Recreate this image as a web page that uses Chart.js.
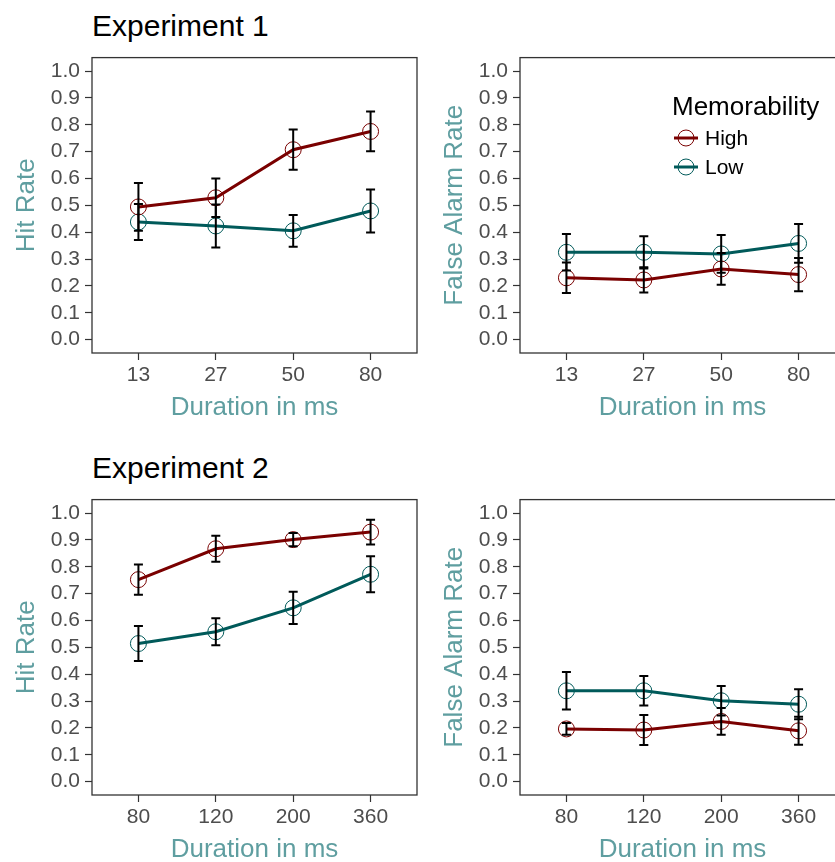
<!DOCTYPE html>
<html>
<head>
<meta charset="utf-8">
<script src="https://cdn.jsdelivr.net/npm/chart.js@4/dist/chart.umd.min.js"></script>
<style>
  html, body { margin:0; padding:0; background:#fff; overflow:hidden; width:835px; height:862px; }
  .wrap { position:relative; width:835px; height:862px; overflow:hidden; }
  canvas { position:absolute; }
  .ptitle { position:absolute; font-family:"Liberation Sans", Arial, sans-serif; font-size:30px; line-height:30px; color:#000; white-space:nowrap; }
</style>
</head>
<body>
<div class="wrap">
  <div class="ptitle" style="left:92px; top:11px;">Experiment 1</div>
  <div class="ptitle" style="left:92px; top:453px;">Experiment 2</div>
  <canvas id="c1" width="426" height="390" style="left:0px; top:40px;"></canvas>
  <canvas id="c2" width="434" height="390" style="left:420px; top:40px;"></canvas>
  <canvas id="c3" width="426" height="390" style="left:0px; top:482px;"></canvas>
  <canvas id="c4" width="434" height="390" style="left:420px; top:482px;"></canvas>
</div>
<script>
// ---- data ----
const exp1Durations = ['13', '27', '50', '80'];
const exp2Durations = ['80', '120', '200', '360'];
const yTickValues = [0, 0.1, 0.2, 0.3, 0.4, 0.5, 0.6, 0.7, 0.8, 0.9, 1.0];
const seriesNames = ['High', 'Low'];

const exp1HitHigh    = [0.494, 0.528, 0.707, 0.775];
const exp1HitHighErr = [0.089, 0.072, 0.075, 0.074];
const exp1HitLow     = [0.438, 0.423, 0.405, 0.479];
const exp1HitLowErr  = [0.067, 0.080, 0.059, 0.080];

const exp1FaHigh     = [0.230, 0.222, 0.263, 0.242];
const exp1FaHighErr  = [0.057, 0.047, 0.059, 0.062];
const exp1FaLow      = [0.325, 0.325, 0.319, 0.358];
const exp1FaLowErr   = [0.068, 0.060, 0.070, 0.072];

const exp2HitHigh    = [0.752, 0.867, 0.901, 0.929];
const exp2HitHighErr = [0.056, 0.048, 0.025, 0.046];
const exp2HitLow     = [0.514, 0.558, 0.647, 0.772];
const exp2HitLowErr  = [0.065, 0.050, 0.060, 0.067];

const exp2FaHigh     = [0.196, 0.192, 0.224, 0.189];
const exp2FaHighErr  = [0.022, 0.056, 0.050, 0.052];
const exp2FaLow      = [0.338, 0.338, 0.301, 0.288];
const exp2FaLowErr   = [0.070, 0.055, 0.055, 0.056];

// ---- style ----
const HIGH_COLOR = '#7a0000';
const LOW_COLOR = '#005a5a';
const AXIS_TITLE_COLOR = '#5f9ea0';
const TICK_COLOR = '#4d4d4d';
const FONT = '"Liberation Sans", Arial, sans-serif';

const errorBarPlugin = {
  id: 'errorBars',
  afterDatasetsDraw(chart) {
    const ctx = chart.ctx;
    const ys = chart.scales.y;
    ctx.save();
    ctx.strokeStyle = '#000';
    ctx.lineWidth = 2;
    chart.data.datasets.forEach((ds, di) => {
      const meta = chart.getDatasetMeta(di);
      ds.data.forEach((pt, i) => {
        const e = ds.errors[i];
        const x = meta.data[i].x;
        const yt = ys.getPixelForValue(pt.y + e);
        const yb = ys.getPixelForValue(pt.y - e);
        ctx.beginPath();
        ctx.moveTo(x, yt); ctx.lineTo(x, yb);
        ctx.moveTo(x - 4.5, yt); ctx.lineTo(x + 4.5, yt);
        ctx.moveTo(x - 4.5, yb); ctx.lineTo(x + 4.5, yb);
        ctx.stroke();
      });
    });
    ctx.restore();
  }
};

const boxPlugin = {
  id: 'panelBox',
  afterDraw(chart) {
    const a = chart.chartArea;
    const ctx = chart.ctx;
    ctx.save();
    ctx.strokeStyle = '#333';
    ctx.lineWidth = 1.3;
    ctx.strokeRect(a.left, a.top, a.right - a.left, a.bottom - a.top);
    ctx.restore();
  }
};

const legendPlugin = {
  id: 'memLegend',
  afterDraw(chart) {
    if (!chart.options.plugins.memLegend || !chart.options.plugins.memLegend.show) return;
    const ctx = chart.ctx;
    ctx.save();
    ctx.fillStyle = '#000';
    ctx.textBaseline = 'alphabetic';
    ctx.textAlign = 'left';
    ctx.font = '26px ' + FONT;
    ctx.fillText('Memorability', 252, 75);
    const items = [[seriesNames[0], HIGH_COLOR, 98], [seriesNames[1], LOW_COLOR, 127]];
    items.forEach(([name, col, cy]) => {
      ctx.strokeStyle = col;
      ctx.lineWidth = 3;
      ctx.beginPath(); ctx.moveTo(254, cy); ctx.lineTo(278, cy); ctx.stroke();
      ctx.lineWidth = 1;
      ctx.beginPath(); ctx.arc(266, cy, 8, 0, Math.PI * 2); ctx.stroke();
      ctx.fillStyle = '#000';
      ctx.font = '21px ' + FONT;
      ctx.fillText(name, 285, cy + 7);
    });
    ctx.restore();
  }
};

function makeDataset(name, color, values, errs) {
  return {
    label: name,
    data: values.map((v, i) => ({ x: i + 1, y: v })),
    errors: errs,
    borderColor: color,
    borderWidth: 3,
    pointRadius: 8,
    pointHoverRadius: 8,
    pointBorderWidth: 1,
    pointBorderColor: color,
    pointBackgroundColor: 'rgba(0,0,0,0)',
    tension: 0,
    fill: false
  };
}

function makeChart(id, labels, yTitle, yWidth, yTitlePad, high, highErr, low, lowErr, showLegend) {
  return new Chart(document.getElementById(id), {
    type: 'line',
    data: {
      datasets: [
        makeDataset(seriesNames[0], HIGH_COLOR, high, highErr),
        makeDataset(seriesNames[1], LOW_COLOR, low, lowErr)
      ]
    },
    options: {
      responsive: false,
      animation: false,
      devicePixelRatio: 1,
      events: [],
      layout: { padding: { top: 17, right: 4, bottom: 0, left: 0 } },
      plugins: {
        legend: { display: false },
        tooltip: { enabled: false },
        memLegend: { show: showLegend }
      },
      scales: {
        x: {
          type: 'linear',
          min: 0.4,
          max: 4.6,
          afterBuildTicks: (s) => { s.ticks = labels.map((l, i) => ({ value: i + 1 })); },
          afterFit: (s) => { s.height = 77; },
          ticks: {
            autoSkip: false,
            maxRotation: 0,
            padding: 3,
            color: TICK_COLOR,
            font: { family: FONT, size: 21 },
            callback: (v) => labels[Math.round(v) - 1]
          },
          grid: { display: true, drawOnChartArea: false, drawTicks: true, tickLength: 7, tickColor: '#333', tickWidth: 1.2 },
          border: { display: false },
          title: { display: true, text: 'Duration in ms', color: AXIS_TITLE_COLOR, font: { family: FONT, size: 26 }, padding: { top: 0, bottom: 7 } }
        },
        y: {
          type: 'linear',
          min: -0.05,
          max: 1.05,
          afterBuildTicks: (s) => { s.ticks = yTickValues.map(v => ({ value: v })); },
          afterFit: (s) => { s.width = yWidth; },
          ticks: {
            autoSkip: false,
            padding: 5,
            color: TICK_COLOR,
            font: { family: FONT, size: 21 },
            callback: (v) => Number(v).toFixed(1)
          },
          grid: { display: true, drawOnChartArea: false, drawTicks: true, tickLength: 7, tickColor: '#333', tickWidth: 1.2 },
          border: { display: false },
          title: { display: true, text: yTitle, color: AXIS_TITLE_COLOR, font: { family: FONT, size: 26 }, padding: { top: yTitlePad, bottom: 0 } }
        }
      }
    },
    plugins: [errorBarPlugin, boxPlugin, legendPlugin]
  });
}

makeChart('c1', exp1Durations, 'Hit Rate', 92, 11, exp1HitHigh, exp1HitHighErr, exp1HitLow, exp1HitLowErr, false);
makeChart('c2', exp1Durations, 'False Alarm Rate', 100, 19, exp1FaHigh, exp1FaHighErr, exp1FaLow, exp1FaLowErr, true);
makeChart('c3', exp2Durations, 'Hit Rate', 92, 11, exp2HitHigh, exp2HitHighErr, exp2HitLow, exp2HitLowErr, false);
makeChart('c4', exp2Durations, 'False Alarm Rate', 100, 19, exp2FaHigh, exp2FaHighErr, exp2FaLow, exp2FaLowErr, false);
</script>
</body>
</html>
